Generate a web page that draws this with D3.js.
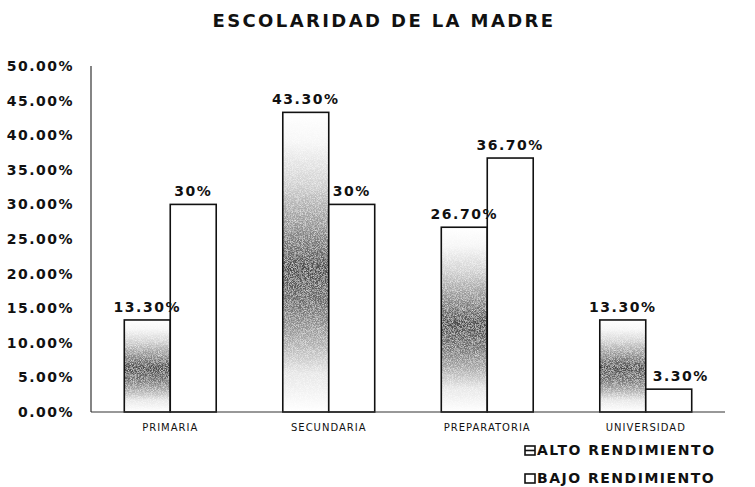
<!DOCTYPE html>
<html lang="es">
<head>
<meta charset="utf-8">
<title>Escolaridad de la madre</title>
<script src="https://cdn.jsdelivr.net/npm/d3@7"></script>
<style>
  body { margin: 0; background: #fff; }
  text { font-family: "DejaVu Sans", Arial, sans-serif; font-weight: bold; fill: #111; }
</style>
</head>
<body>
<script>
// data
var categorias = ["PRIMARIA", "SECUNDARIA", "PREPARATORIA", "UNIVERSIDAD"];
var series = ["ALTO RENDIMIENTO", "BAJO RENDIMIENTO"];
var alto = [13.3, 43.3, 26.7, 13.3];
var bajo = [30, 30, 36.7, 3.3];
var etiquetasAlto = ["13.30%", "43.30%", "26.70%", "13.30%"];
var etiquetasBajo = ["30%", "30%", "36.70%", "3.30%"];
var ticks = [0, 5, 10, 15, 20, 25, 30, 35, 40, 45, 50];

var w = 755, h = 487;
var margenIzq = 91, margenDer = 725, margenSup = 66, margenInf = 412;

var svg = d3.select("body").append("svg")
  .attr("width", w)
  .attr("height", h);

// gradient for the "alto" bars
var defs = svg.append("defs");
var grad = defs.append("linearGradient")
  .attr("id", "gradAlto")
  .attr("x1", 0).attr("y1", 0).attr("x2", 0).attr("y2", 1);
[[0, "#ffffff"], [0.1, "#f6f6f6"], [0.24, "#d0d0d0"], [0.39, "#8e8e8e"],
 [0.52, "#4a4a4a"], [0.64, "#6c6c6c"], [0.76, "#a8a8a8"], [0.87, "#e6e6e6"], [1, "#ffffff"]]
  .forEach(function(s) {
    grad.append("stop").attr("offset", s[0]).attr("stop-color", s[1]);
  });

// fine grain like the scanned print
var grain = defs.append("filter").attr("id", "grano")
  .attr("x", 0).attr("y", 0).attr("width", 1).attr("height", 1);
grain.append("feTurbulence").attr("type", "fractalNoise")
  .attr("baseFrequency", 1.4).attr("numOctaves", 1).attr("seed", 5).attr("result", "ruido");
grain.append("feColorMatrix").attr("in", "ruido").attr("type", "matrix")
  .attr("values", "0 0 0 0 1  0 0 0 0 1  0 0 0 0 1  0 0 0 -1.6 0.95").attr("result", "blanco");
grain.append("feComposite").attr("in", "blanco").attr("in2", "SourceGraphic")
  .attr("operator", "atop");

var x = d3.scaleBand()
  .domain(categorias)
  .range([margenIzq, margenDer])
  .paddingInner(0.42)
  .paddingOuter(0.21);

var x1 = d3.scaleBand()
  .domain(series)
  .range([0, x.bandwidth()]);

var y = d3.scaleLinear()
  .domain([0, 50])
  .range([margenInf, margenSup]);

// title
svg.append("text")
  .attr("x", 384)
  .attr("y", 27)
  .attr("text-anchor", "middle")
  .style("font-size", "18px")
  .style("letter-spacing", "2.4px")
  .text("ESCOLARIDAD DE LA MADRE");

// y axis labels
svg.append("g").selectAll("text")
  .data(ticks)
  .enter()
  .append("text")
  .attr("x", 74)
  .attr("y", function(d) { return y(d); })
  .attr("dy", "0.36em")
  .attr("text-anchor", "end")
  .style("font-size", "14px")
  .style("letter-spacing", "1.5px")
  .text(function(d) { return d.toFixed(2) + "%"; });

// bars
var grupos = svg.append("g").selectAll("g")
  .data(categorias)
  .enter()
  .append("g")
  .attr("transform", function(d) { return "translate(" + x(d) + ",0)"; });

grupos.append("rect")
  .attr("x", x1(series[0]))
  .attr("y", function(d, i) { return y(alto[i]); })
  .attr("width", x1.bandwidth())
  .attr("height", function(d, i) { return y(0) - y(alto[i]); })
  .style("fill", "url(#gradAlto)")
  .style("filter", "url(#grano)");

grupos.append("rect")
  .attr("x", x1(series[0]))
  .attr("y", function(d, i) { return y(alto[i]); })
  .attr("width", x1.bandwidth())
  .attr("height", function(d, i) { return y(0) - y(alto[i]); })
  .style("fill", "none")
  .style("stroke", "#111")
  .style("stroke-width", 1.6);

grupos.append("rect")
  .attr("x", x1(series[1]))
  .attr("y", function(d, i) { return y(bajo[i]); })
  .attr("width", x1.bandwidth())
  .attr("height", function(d, i) { return y(0) - y(bajo[i]); })
  .style("fill", "#fff")
  .style("stroke", "#111")
  .style("stroke-width", 1.6);

// value labels
grupos.append("text")
  .attr("x", x1(series[0]) + x1.bandwidth() / 2)
  .attr("y", function(d, i) { return y(alto[i]) - 8; })
  .attr("text-anchor", "middle")
  .style("font-size", "14px")
  .style("letter-spacing", "1.5px")
  .text(function(d, i) { return etiquetasAlto[i]; });

grupos.append("text")
  .attr("x", function(d, i) {
    // low bar beside a much taller one: label pushed right, as in the original
    var extra = alto[i] > 3 * bajo[i] ? 12 : 0;
    return x1(series[1]) + x1.bandwidth() / 2 + extra;
  })
  .attr("y", function(d, i) { return y(bajo[i]) - 8; })
  .attr("text-anchor", "middle")
  .style("font-size", "14px")
  .style("letter-spacing", "1.5px")
  .text(function(d, i) { return etiquetasBajo[i]; });

// axes lines
svg.append("line")
  .attr("x1", margenIzq).attr("x2", margenIzq)
  .attr("y1", y(50)).attr("y2", y(0))
  .style("stroke", "#333").style("stroke-width", 1.2);
svg.append("line")
  .attr("x1", margenIzq).attr("x2", margenDer)
  .attr("y1", y(0)).attr("y2", y(0))
  .style("stroke", "#333").style("stroke-width", 1.2);

// category labels
svg.append("g").selectAll("text")
  .data(categorias)
  .enter()
  .append("text")
  .attr("x", function(d) { return x(d) + x.bandwidth() / 2; })
  .attr("y", 431)
  .attr("text-anchor", "middle")
  .style("font-size", "10px")
  .style("letter-spacing", "1px")
  .style("font-weight", "normal")
  .text(function(d) { return d; });

// legend
var leyenda = svg.append("g").selectAll("g")
  .data(series)
  .enter()
  .append("g")
  .attr("transform", function(d, i) { return "translate(525," + (446 + i * 28) + ")"; });

leyenda.append("rect")
  .attr("width", 10)
  .attr("height", 9)
  .style("fill", "#fff")
  .style("stroke", "#111")
  .style("stroke-width", 1.6);

leyenda.filter(function(d, i) { return i === 0; })
  .append("line")
  .attr("x1", 0).attr("x2", 10)
  .attr("y1", 4.5).attr("y2", 4.5)
  .style("stroke", "#111")
  .style("stroke-width", 1.6);

leyenda.append("text")
  .attr("x", 12)
  .attr("y", 9)
  .style("font-size", "14px")
  .style("letter-spacing", "1.5px")
  .text(function(d) { return d; });
</script>
</body>
</html>
